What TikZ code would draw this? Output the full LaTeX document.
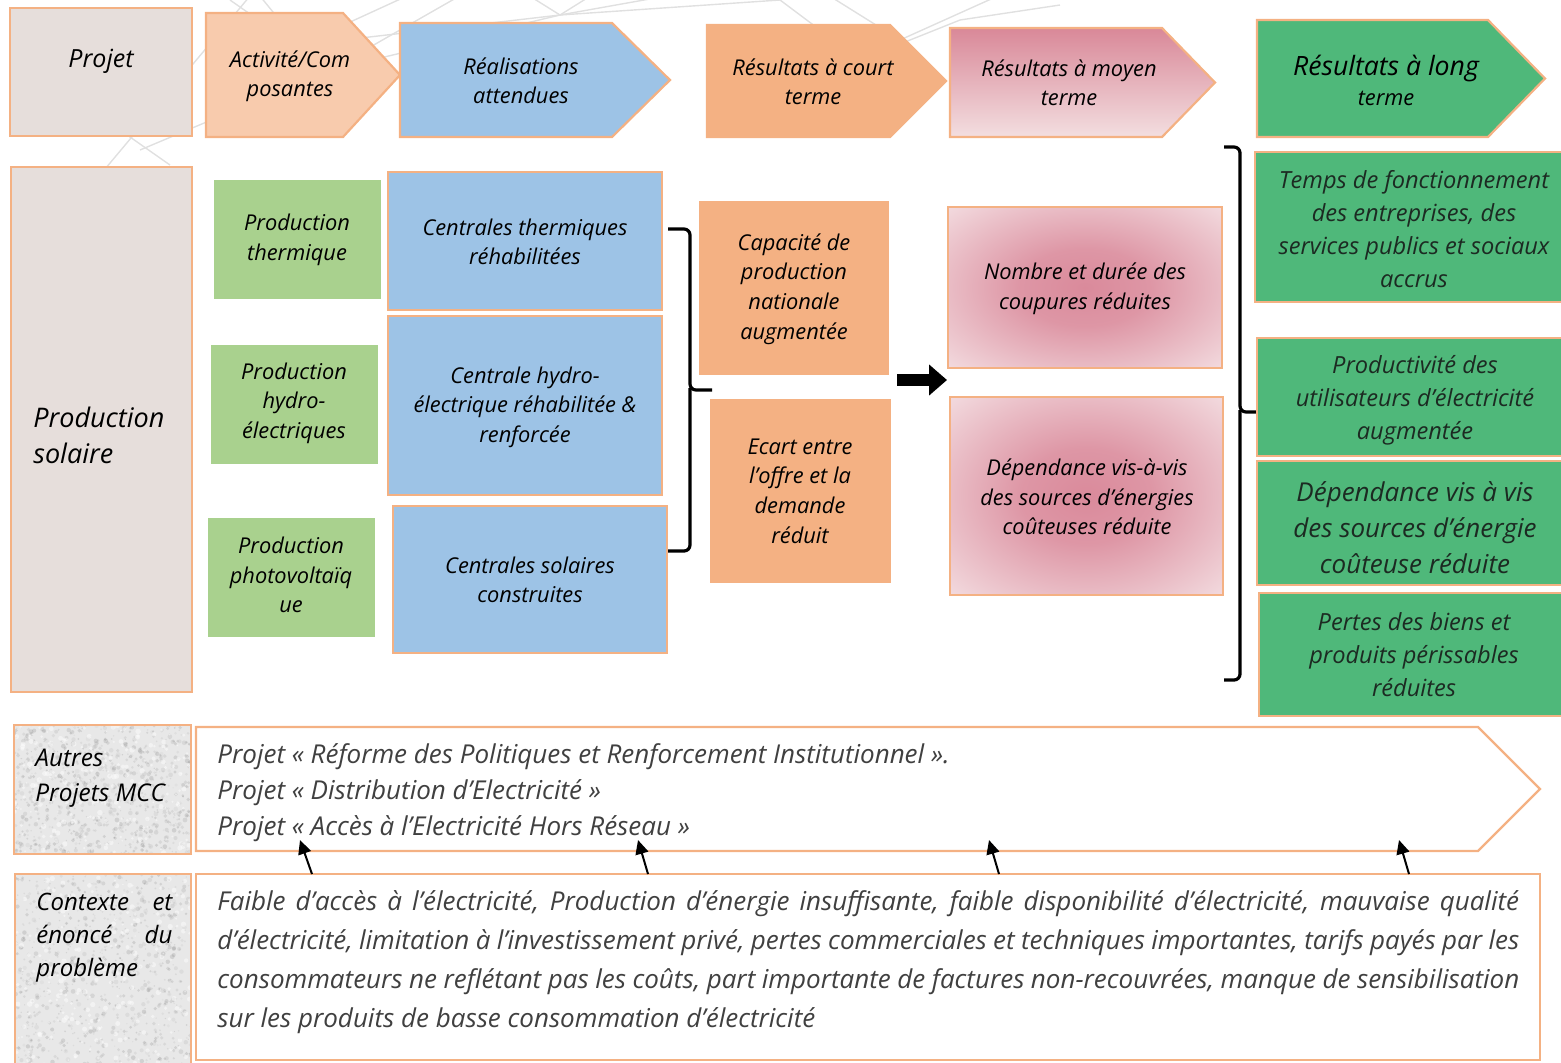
\documentclass[tikz,border=0pt]{standalone}
\usepackage{fontspec}
\setmainfont{Open Sans}
\usetikzlibrary{fit,arrows.meta}

\definecolor{bord}{HTML}{F4B183}
\definecolor{projgray}{HTML}{E6DEDB}
\definecolor{activ}{HTML}{F8CBAD}
\definecolor{realblue}{HTML}{9DC3E6}
\definecolor{court}{HTML}{F4B183}
\definecolor{pinkT}{HTML}{D98898}
\definecolor{pinkB}{HTML}{F3DEE0}
\definecolor{pinkC}{HTML}{DA8A9B}
\definecolor{pinkO}{HTML}{F3DCE0}
\definecolor{longgreen}{HTML}{4FB87A}
\definecolor{lightgreen}{HTML}{A9D18E}
\definecolor{texbase}{HTML}{E8E8E8}
\definecolor{netgray}{HTML}{E0E0E0}
\definecolor{softtext}{HTML}{404040}
\definecolor{greentext}{HTML}{1C2A22}

% soft pink glow reaching the corners of the box
\pgfdeclareradialshading{pinkglow}{\pgfpoint{0bp}{0bp}}%
  {color(0bp)=(pinkC); color(12bp)=(pinkC!85!pinkO); color(36bp)=(pinkO); color(50bp)=(pinkO)}

\newcommand{\fsz}[2]{\fontsize{#1}{#2}\selectfont}
% pentagon arrow: left x, top y, start of slant x, tip x, bottom y
\newcommand{\penta}[5]{(#1,#2) -- (#3,#2) -- (#4,{(#2+#5)/2}) -- (#3,#5) -- (#1,#5) -- cycle}
% mottled grey paper fill
\newcommand{\speckle}[4]{%
  \begin{scope}
    \clip (#1,#2) rectangle (#3,#4);
    \fill[texbase] (#1,#2) rectangle (#3,#4);
    \foreach \k in {1,...,900}{
      \pgfmathsetmacro{\sx}{#1+(#3-#1)*rnd}
      \pgfmathsetmacro{\sy}{#2+(#4-#2)*rnd}
      \pgfmathsetmacro{\sr}{0.6+1.8*rnd}
      \pgfmathsetmacro{\so}{0.06+0.18*rnd}
      \fill[gray, opacity=\so] (\sx,\sy) circle[radius=\sr];
    }
    \foreach \k in {1,...,250}{
      \pgfmathsetmacro{\sx}{#1+(#3-#1)*rnd}
      \pgfmathsetmacro{\sy}{#2+(#4-#2)*rnd}
      \pgfmathsetmacro{\sr}{0.8+2.0*rnd}
      \fill[white, opacity=0.45] (\sx,\sy) circle[radius=\sr];
    }
  \end{scope}}

\begin{document}
\begin{tikzpicture}[x=0.5pt,y=-0.5pt,
  bx/.style={draw=bord, line width=1.1pt, inner sep=0pt},
  tx/.style={align=center, inner sep=0pt},
  hd/.style={tx, font={\itshape\fsz{10.9}{14.5}}},
  mid/.style={tx, font={\itshape\fsz{10.9}{14.8}}},
  rg/.style={tx, text=greentext, font={\itshape\fsz{11.8}{16.5}}},
  brace/.style={line width=1.6pt, rounded corners=3pt},
  up/.style={line width=1pt, -{Triangle[length=7pt,width=6.5pt]}},
  fat/.style={line width=6pt, -{Triangle[length=9pt,width=15pt]}}
]
\useasboundingbox (0,0) rectangle (1561,1062);
\pgfmathsetseed{11}

% faint network lines behind the header
\begin{scope}[netgray, line width=0.7pt]
  \draw (100,175) -- (255,-10) -- (300,45) -- (420,-10);
  \draw (140,150) -- (330,70) -- (560,15) -- (700,-10);
  \draw (230,0) -- (330,70) -- (470,-10);
  \draw (300,45) -- (560,15) -- (780,0) -- (860,60);
  \draw (820,-10) -- (900,40) -- (1000,-5);
  \draw (860,60) -- (960,20) -- (1060,5);
  \draw (520,-10) -- (560,15) -- (600,-10);
  \draw (120,130) -- (170,165);
\end{scope}

% ---------- header row ----------
\node[bx, fill=projgray, fit={(10,8)(192,136)}] (projet) {};
\node[tx, font={\itshape\fsz{12.5}{15}}] (projetT) at (101,61) {Projet};

\filldraw[fill=activ, draw=bord, line width=1.1pt] \penta{206}{13}{343}{400}{137};
\node[hd] (activT) at (290,76) {Activité/Com\\posantes};

\filldraw[fill=realblue, draw=bord, line width=1.1pt] \penta{400}{23}{612}{670}{137};
\node[hd] (realT) at (521,81) {Réalisations\\attendues};

\filldraw[fill=court, draw=court, line width=1.1pt] \penta{707}{25}{890}{946}{137};
\node[hd] (courtT) at (813,82) {Résultats à court\\terme};

\shade[top color=pinkT, bottom color=pinkB] \penta{950}{28}{1162}{1215}{137};
\draw[bord, line width=1.1pt] \penta{950}{28}{1162}{1215}{137};
\node[hd] (moyenT) at (1069,83) {Résultats à moyen\\terme};

\filldraw[fill=longgreen, draw=bord, line width=1.1pt] \penta{1257}{20}{1488}{1545}{137};
\node[tx, font={\itshape\fsz{13.3}{15}}] (longT) at (1386,80)
  {Résultats à long\\{\fsz{10.9}{14}terme}};

% ---------- project column ----------
\node[bx, fill=projgray, fit={(11,167)(192,692)}] (solaire) {};
\node[tx, anchor=west, align=left, font={\itshape\fsz{13.5}{18}}] (solaireT) at (33,435)
  {Production\\solaire};

% components
\node[fill=lightgreen, inner sep=0pt, fit={(214,180)(381,299)}] (thermC) {};
\node[mid] (thermT) at (297,240) {Production\\thermique};
\node[fill=lightgreen, inner sep=0pt, fit={(211,345)(378,464)}] (hydroC) {};
\node[mid] (hydroT) at (294,403) {Production\\hydro-\\électriques};
\node[fill=lightgreen, inner sep=0pt, fit={(208,518)(375,637)}] (pvC) {};
\node[mid] (pvT) at (291,575) {Production\\photovoltaïq\\ue};

% outputs
\node[bx, fill=realblue, fit={(388,172)(662,310)}] (thermR) {};
\node[mid] (thermRT) at (525,242) {Centrales thermiques\\réhabilitées};
\node[bx, fill=realblue, fit={(388,316)(662,495)}] (hydroR) {};
\node[mid] (hydroRT) at (525,407) {Centrale hydro-\\électrique réhabilitée \&\\renforcée};
\node[bx, fill=realblue, fit={(393,506)(667,653)}] (pvR) {};
\node[mid] (pvRT) at (530,580) {Centrales solaires\\construites};

% brace grouping the outputs
\coordinate (b1top) at (668,229);
\coordinate (b1tip) at (712,390);
\coordinate (b1bot) at (668,551);
\draw[brace] (b1top) -- (690,229) -- (690,390) -- (b1tip);
\draw[brace] (690,388) -- (690,551) -- (b1bot);

% short-term results
\node[fill=court, inner sep=0pt, fit={(699,201)(889,375)}] (capac) {};
\node[mid] (capacT) at (794,289) {Capacité de\\production\\nationale\\augmentée};
\node[fill=court, inner sep=0pt, fit={(710,399)(891,583)}] (ecart) {};
\node[mid] (ecartT) at (800,491) {Ecart entre\\l’offre et la\\demande\\réduit};

% thick arrow to medium-term results
\coordinate (fa1) at (897,380);
\coordinate (fa2) at (947,380);
\draw[fat] (fa1) -- (fa2);

% medium-term results
\shade[shading=pinkglow] (948,207) rectangle (1222,368);
\node[bx, fit={(948,207)(1222,368)}] (coup) {};
\node[mid] (coupT) at (1085,289) {Nombre et durée des\\coupures réduites};
\shade[shading=pinkglow] (950,397) rectangle (1223,595);
\node[bx, fit={(950,397)(1223,595)}] (depm) {};
\node[mid] (depmT) at (1087,497) {Dépendance vis-à-vis\\des sources d’énergies\\coûteuses réduite};

% brace grouping the long-term results
\coordinate (b2top) at (1224,147);
\coordinate (b2tip) at (1256,412);
\coordinate (b2bot) at (1224,680);
\draw[brace] (b2top) -- (1240,147) -- (1240,412) -- (b2tip);
\draw[brace] (1240,410) -- (1240,680) -- (b2bot);

% long-term results
\begin{scope}
\clip (0,0) rectangle (1561,1062);
\node[bx, fill=longgreen, fit={(1255,152)(1580,302)}] (temps) {};
\node[bx, fill=longgreen, fit={(1257,338)(1580,456)}] (produ) {};
\node[bx, fill=longgreen, fit={(1257,461)(1580,585)}] (depl) {};
\node[bx, fill=longgreen, fit={(1259,593)(1580,716)}] (pertes) {};
\end{scope}
\node[rg] (tempsT) at (1414,229)
  {Temps de fonctionnement\\des entreprises, des\\services publics et sociaux\\accrus};
\node[rg] (produT) at (1415,400)
  {Productivité des\\utilisateurs d’électricité\\augmentée};
\node[rg, font={\itshape\fsz{13}{18}}] (deplT) at (1415,528)
  {Dépendance vis à vis\\des sources d’énergie\\coûteuse réduite};
\node[rg] (pertesT) at (1414,655)
  {Pertes des biens et\\produits périssables\\réduites};

% ---------- other projects ----------
\speckle{14}{725}{191}{854}
\node[bx, fit={(14,725)(191,854)}] (autres) {};
\node[tx, anchor=west, align=left, font={\itshape\fsz{12.2}{17.5}}] (autresT) at (35,778)
  {Autres\\Projets MCC};

\filldraw[fill=white, draw=bord, line width=1.1pt] \penta{196}{727}{1478}{1540}{851};
\node[tx, anchor=west, align=left, text=softtext, font={\itshape\fsz{13}{18}}] (projT) at (217,793)
  {Projet « Réforme des Politiques et Renforcement Institutionnel ».\\
   Projet « Distribution d’Electricité »\\
   Projet « Accès à l’Electricité Hors Réseau »};

% ---------- context ----------
\speckle{15}{874}{191}{1075}
\node[bx, fit={(15,874)(191,1075)}] (ctxlab) {};
\node[anchor=north west, inner sep=0pt, text width=68pt, align=justify,
      font={\itshape\fsz{12}{16.5}}] (ctxlabT) at (36,893)
  {Contexte et\linebreak énoncé du\linebreak problème};

\node[bx, fill=white, fit={(196,874)(1540,1060)}] (ctx) {};
\node[anchor=north west, inner sep=0pt, text width=651pt, align=justify, text=softtext,
      font={\itshape\fsz{13}{19.5}}] (ctxT) at (217,890)
  {Faible d’accès à l’électricité, Production d’énergie insuffisante, faible disponibilité d’électricité, mauvaise qualité\linebreak
   d’électricité, limitation à l’investissement privé, pertes commerciales et techniques importantes, tarifs payés par les\linebreak
   consommateurs ne reflétant pas les coûts, part importante de factures non-recouvrées, manque de sensibilisation\linebreak
   sur les produits de basse consommation d’électricité};

% arrows from the context to the projects
\coordinate (c1) at (312,874);  \coordinate (p1) at (300,840);
\coordinate (c2) at (648,874);  \coordinate (p2) at (638,840);
\coordinate (c3) at (999,874);  \coordinate (p3) at (989,840);
\coordinate (c4) at (1409,874); \coordinate (p4) at (1399,840);
\draw[up] (c1) -- (p1);
\draw[up] (c2) -- (p2);
\draw[up] (c3) -- (p3);
\draw[up] (c4) -- (p4);
\end{tikzpicture}
\end{document}
